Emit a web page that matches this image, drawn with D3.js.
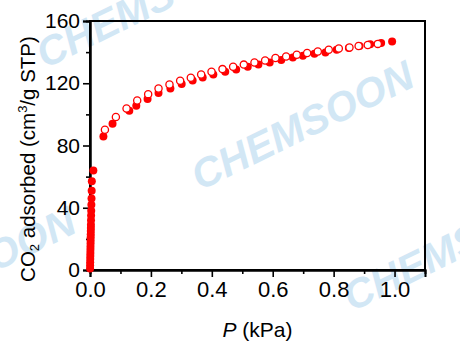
<!DOCTYPE html>
<html>
<head>
<meta charset="utf-8">
<script src="https://cdn.jsdelivr.net/npm/d3@7"></script>
<style>
  body { margin: 0; background: #fff; }
  svg { display: block; font-family: "Liberation Sans", Arial, sans-serif; }
</style>
</head>
<body>
<div id="chart"></div>
<script>
// adsorption (filled) and desorption (open) branches, P in kPa, V in cm3/g STP
const adsP = [0.0002, 0.0004, 0.0006, 0.0008, 0.001, 0.0012, 0.0014, 0.0016, 0.0018, 0.002,
  0.0022, 0.0024, 0.0026, 0.0028, 0.003, 0.0033, 0.0036, 0.004, 0.0045, 0.005, 0.0055, 0.006,
  0.011, 0.044, 0.074, 0.129, 0.152, 0.189, 0.225, 0.264, 0.301, 0.337, 0.370, 0.405, 0.444,
  0.480, 0.518, 0.553, 0.590, 0.628, 0.666, 0.699, 0.737, 0.773, 0.810, 0.850, 0.885, 0.920,
  0.956, 0.992];
const adsV = [1, 3, 5, 7, 9, 11, 13, 15, 17, 19,
  21, 23, 25, 27, 29, 32, 35, 38, 42, 46, 51, 57,
  64, 85.8, 94, 102.3, 105.5, 109.8, 113.7, 116.6, 119.5, 121.8, 123.7, 125.6, 127.4,
  128.8, 130.6, 132, 133.4, 135, 136.5, 137.6, 138.9, 139.8, 141.5, 142.6, 144, 145.1,
  145.8, 146.8];

const desP = [0.049, 0.085, 0.120, 0.155, 0.191, 0.225, 0.261, 0.296, 0.331, 0.365, 0.399,
  0.435, 0.470, 0.505, 0.540, 0.575, 0.609, 0.644, 0.679, 0.713, 0.748, 0.784, 0.817,
  0.852, 0.882, 0.912, 0.945];
const desV = [90.1, 98.3, 103.8, 108.9, 113, 116.6, 119.2, 121.6, 123.5, 125.6, 127.4,
  129.1, 130.6, 132, 133.3, 134.6, 136.2, 137.2, 138.3, 139.4, 140.4, 141.5, 142.3,
  143, 143.9, 144.6, 145.3];

const xTicks = [0, 0.2, 0.4, 0.6, 0.8, 1.0];
const xMinor = [0.1, 0.3, 0.5, 0.7, 0.9];
const yTicks = [0, 40, 80, 120, 160];
const yMinor = [20, 60, 100, 140];

const W = 460, H = 344;
const svg = d3.select("#chart").append("svg")
    .attr("width", W)
    .attr("height", H);

// watermark
const marks = [[45, 69], [200, 191], [352, 312], [-138, 337]];
svg.append("g")
    .selectAll("text")
    .data(marks)
    .join("text")
    .attr("transform", d => `translate(${d[0]},${d[1]}) rotate(-26)`)
    .attr("font-size", 41)
    .attr("font-weight", 900)
    .attr("font-style", "italic")
    .attr("fill", "#d2e7f5")
    .text("CHEMSOON");

const x = d3.scaleLinear().domain([0, 1.1]).range([90, 425]);
const y = d3.scaleLinear().domain([0, 160]).range([270, 21]);

// frame
svg.append("rect")
    .attr("x", x(0)).attr("y", y(160))
    .attr("width", x(1.1) - x(0)).attr("height", y(0) - y(160))
    .attr("fill", "none").attr("stroke", "#000").attr("stroke-width", 2);

const xAxis = svg.append("g")
    .attr("transform", `translate(0,${y(0)})`)
    .call(d3.axisBottom(x).tickValues(xTicks).tickFormat(d3.format(".1f")).tickSizeOuter(0).tickSize(7).tickPadding(4));
svg.append("g")
    .attr("transform", `translate(0,${y(0)})`)
    .call(d3.axisBottom(x).tickValues(xMinor).tickFormat("").tickSizeOuter(0).tickSize(4));

const yAxis = svg.append("g")
    .attr("transform", `translate(${x(0)},0)`)
    .call(d3.axisLeft(y).tickValues(yTicks).tickSizeOuter(0).tickSize(7).tickPadding(3));
svg.append("g")
    .attr("transform", `translate(${x(0)},0)`)
    .call(d3.axisLeft(y).tickValues(yMinor).tickFormat("").tickSizeOuter(0).tickSize(4));

svg.selectAll(".domain").attr("stroke-width", 2);
svg.selectAll(".tick line").attr("stroke-width", 1.6);
xAxis.selectAll("text").attr("font-size", 22).attr("fill", "#000")
    .attr("font-family", "Liberation Sans, Arial, sans-serif");
yAxis.selectAll("text").attr("font-size", 21).attr("fill", "#000")
    .attr("font-family", "Liberation Sans, Arial, sans-serif");

// data
const ads = adsP.map((p, i) => ({p, v: adsV[i]}));
const des = desP.map((p, i) => ({p, v: desV[i]}));

svg.append("g")
    .selectAll("circle")
    .data(ads)
    .join("circle")
    .attr("cx", d => x(d.p))
    .attr("cy", d => y(d.v))
    .attr("r", 4)
    .attr("fill", "#ff0000");

svg.append("g")
    .selectAll("circle")
    .data(des)
    .join("circle")
    .attr("cx", d => x(d.p))
    .attr("cy", d => y(d.v))
    .attr("r", 3.6)
    .attr("fill", "#fff")
    .attr("stroke", "#ff0000")
    .attr("stroke-width", 1.3);

// axis titles
const xt = svg.append("text")
    .attr("x", (x(0) + x(1.1)) / 2)
    .attr("y", 337)
    .attr("text-anchor", "middle")
    .attr("font-size", 21);
xt.append("tspan").attr("font-style", "italic").text("P");
xt.append("tspan").text(" (kPa)");

const yt = svg.append("text")
    .attr("transform", "translate(35,159) rotate(-90)")
    .attr("text-anchor", "middle")
    .attr("font-size", 20.5);
yt.append("tspan").text("CO");
yt.append("tspan").attr("font-size", 13).attr("dy", 4).text("2");
yt.append("tspan").attr("dy", -4).text(" adsorbed (cm");
yt.append("tspan").attr("font-size", 13).attr("dy", -8).text("3");
yt.append("tspan").attr("dy", 8).text("/g STP)");
</script>
</body>
</html>
